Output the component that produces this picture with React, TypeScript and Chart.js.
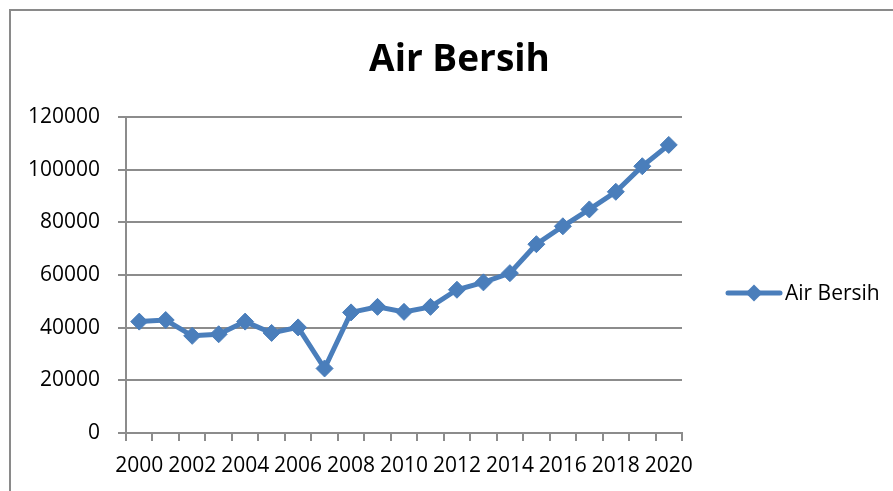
import { useEffect, useRef } from 'react';
import { Chart, registerables } from 'chart.js';

Chart.register(...registerables);

const chartTitle = 'Air Bersih';
const seriesName = 'Air Bersih';
const years = [
  '2000', '2001', '2002', '2003', '2004', '2005', '2006', '2007', '2008', '2009', '2010',
  '2011', '2012', '2013', '2014', '2015', '2016', '2017', '2018', '2019', '2020',
];
const airBersih = [
  42300, 42900, 36900, 37500, 42300, 38000, 40100, 24500, 45800, 47900, 46000,
  47900, 54400, 57200, 60700, 71700, 78500, 84900, 91600, 101300, 109400,
];
const yMin = 0;
const yMax = 120000;
const yStep = 20000;

const LINE_COLOR = '#4a7ebb';
const GRID_COLOR = '#8c8c8c';
const FONT_FAMILY = '"Open Sans", "Liberation Sans", sans-serif';

const framePlugin = {
  id: 'frame',
  beforeDraw(chart: any) {
    const ctx = chart.ctx;
    ctx.save();
    ctx.fillStyle = '#ffffff';
    ctx.fillRect(0, 0, chart.width, chart.height);
    ctx.strokeStyle = '#8a8a8a';
    ctx.lineWidth = 2;
    ctx.beginPath();
    ctx.moveTo(10, chart.height);
    ctx.lineTo(10, 10);
    ctx.lineTo(chart.width, 10);
    ctx.stroke();
    ctx.restore();
  },
};

const legendPlugin = {
  id: 'excelLegend',
  afterDraw(chart: any) {
    const ctx = chart.ctx;
    const ds = chart.data.datasets[0];
    const x0 = 728;
    const x1 = 780;
    const y = 293;
    ctx.save();
    ctx.strokeStyle = ds.borderColor;
    ctx.lineWidth = 5;
    ctx.lineCap = 'round';
    ctx.beginPath();
    ctx.moveTo(x0, y);
    ctx.lineTo(x1, y);
    ctx.stroke();
    ctx.fillStyle = ds.pointBackgroundColor;
    ctx.beginPath();
    const r = 8.5;
    const cx = (x0 + x1) / 2;
    ctx.moveTo(cx, y - r);
    ctx.lineTo(cx + r, y);
    ctx.lineTo(cx, y + r);
    ctx.lineTo(cx - r, y);
    ctx.closePath();
    ctx.fill();
    ctx.fillStyle = '#000000';
    ctx.font = `21px ${FONT_FAMILY}`;
    ctx.textBaseline = 'alphabetic';
    ctx.textAlign = 'left';
    ctx.fillText(ds.label, 785, 300);
    ctx.restore();
  },
};

export default function App() {
  const canvasRef = useRef<HTMLCanvasElement | null>(null);

  useEffect(() => {
    const canvas = canvasRef.current;
    if (!canvas) return;
    const chart = new Chart(canvas, {
      type: 'line',
      data: {
        labels: years,
        datasets: [
          {
            label: seriesName,
            data: airBersih,
            borderColor: LINE_COLOR,
            backgroundColor: LINE_COLOR,
            borderWidth: 5,
            pointStyle: 'rectRot',
            pointRadius: 8.5,
            pointBackgroundColor: LINE_COLOR,
            pointBorderColor: LINE_COLOR,
            pointBorderWidth: 1,
            tension: 0,
            fill: false,
            yAxisID: 'y',
          },
        ],
      },
      options: {
        responsive: false,
        animation: false,
        devicePixelRatio: 1,
        layout: { padding: { top: 0, left: 26, right: 0, bottom: 0 } },
        plugins: {
          legend: { display: false },
          tooltip: { enabled: false },
          title: {
            display: true,
            text: chartTitle,
            color: '#000000',
            font: { family: FONT_FAMILY, size: 37, weight: 'bold', lineHeight: 1.2 },
            padding: { top: 38, bottom: 34.6 },
          },
        },
        scales: {
          x: {
            type: 'category',
            offset: true,
            afterFit: (s: any) => {
              s.height = 58;
            },
            grid: {
              offset: true,
              drawOnChartArea: false,
              drawTicks: true,
              tickLength: 8,
              color: GRID_COLOR,
              lineWidth: 2,
            },
            border: { color: GRID_COLOR, width: 2 },
            ticks: {
              autoSkip: false,
              maxRotation: 0,
              minRotation: 0,
              padding: 12,
              color: '#000000',
              font: { family: FONT_FAMILY, size: 21 },
              callback: (_v: any, i: number) => (i % 2 === 0 ? years[i] : ''),
            },
          },
          y: {
            min: yMin,
            max: yMax,
            afterFit: (s: any) => {
              s.width = 100;
            },
            grid: {
              color: GRID_COLOR,
              lineWidth: 2,
              drawTicks: true,
              tickLength: 8,
            },
            border: { color: GRID_COLOR, width: 2 },
            ticks: {
              stepSize: yStep,
              padding: 18,
              color: '#000000',
              font: { family: FONT_FAMILY, size: 21 },
              callback: (v: any) => String(v),
            },
          },
          legendSpace: {
            type: 'linear',
            position: 'right',
            display: true,
            afterFit: (s: any) => {
              s.width = 211;
            },
            grid: { display: false, drawTicks: false },
            border: { display: false },
            ticks: { display: false },
          },
        },
      },
      plugins: [framePlugin, legendPlugin],
    });
    return () => chart.destroy();
  }, []);

  return (
    <div style={{ position: 'absolute', left: 0, top: 0, width: 893, height: 491 }}>
      <canvas ref={canvasRef} width={893} height={491} style={{ display: 'block', width: 893, height: 491 }} />
    </div>
  );
}
